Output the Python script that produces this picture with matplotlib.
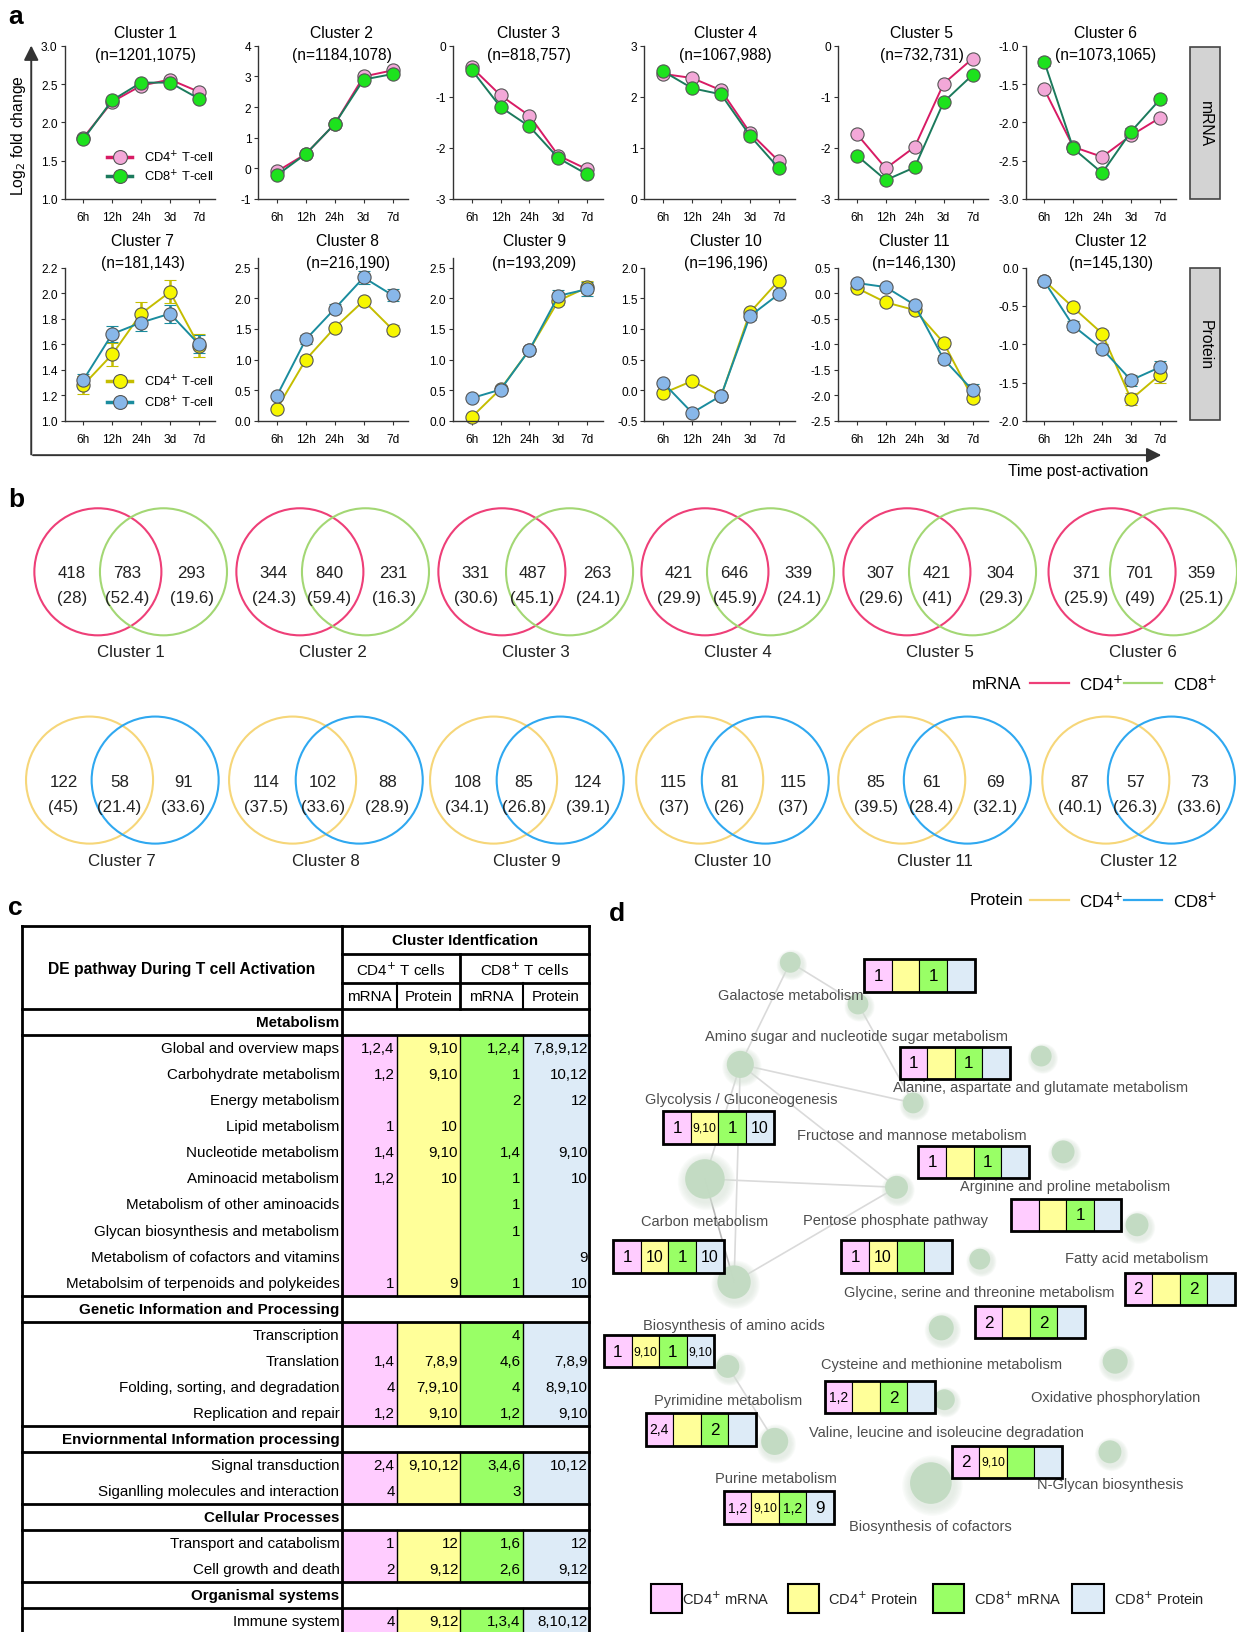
import matplotlib
matplotlib.use("Agg")
import matplotlib.pyplot as plt
from matplotlib.patches import Circle, Rectangle
from matplotlib import font_manager

# layout is worked out in the coordinates of the shown reference (1188 x 1568)
W, H = 1188, 1568
names = {f.name for f in font_manager.fontManager.ttflist}
NARROW = "Liberation Sans Narrow" in names
if NARROW:
    plt.rcParams["font.family"] = ["Liberation Sans Narrow", "Liberation Sans", "DejaVu Sans"]
    FS = 1.0
else:
    plt.rcParams["font.family"] = ["Liberation Sans", "DejaVu Sans"]
    FS = 0.84
BOLD = ["Liberation Sans", "DejaVu Sans"]

# ---------------- data: panel a ----------------
times = ["6h", "12h", "24h", "3d", "7d"]
cluster_n = ["(n=1201,1075)", "(n=1184,1078)", "(n=818,757)", "(n=1067,988)",
             "(n=732,731)", "(n=1073,1065)", "(n=181,143)", "(n=216,190)",
             "(n=193,209)", "(n=196,196)", "(n=146,130)", "(n=145,130)"]

cd4_vals = [
    [1.80, 2.27, 2.48, 2.56, 2.40],
    [-0.10, 0.47, 1.45, 3.00, 3.20],
    [-0.42, -0.97, -1.37, -2.15, -2.42],
    [2.45, 2.37, 2.13, 1.30, 0.74],
    [-1.73, -2.40, -1.98, -0.74, -0.25],
    [-1.57, -2.32, -2.45, -2.17, -1.94],
    [1.28, 1.52, 1.84, 2.01, 1.59],
    [0.20, 1.00, 1.52, 1.96, 1.49],
    [0.06, 0.52, 1.16, 1.96, 2.18],
    [-0.05, 0.15, -0.10, 1.27, 1.79],
    [0.10, -0.18, -0.33, -0.97, -2.05],
    [-0.17, -0.52, -0.86, -1.72, -1.40],
]
cd8_vals = [
    [1.78, 2.29, 2.52, 2.52, 2.31],
    [-0.22, 0.47, 1.45, 2.90, 3.08],
    [-0.47, -1.20, -1.58, -2.20, -2.52],
    [2.50, 2.17, 2.05, 1.24, 0.60],
    [-2.15, -2.63, -2.38, -1.10, -0.57],
    [-1.21, -2.34, -2.66, -2.12, -1.70],
    [1.32, 1.68, 1.77, 1.84, 1.60],
    [0.41, 1.33, 1.83, 2.34, 2.05],
    [0.37, 0.51, 1.16, 2.04, 2.15],
    [0.12, -0.37, -0.09, 1.21, 1.57],
    [0.20, 0.12, -0.23, -1.29, -1.90],
    [-0.18, -0.76, -1.06, -1.47, -1.30],
]
cd4_err = [
    [0.02] * 5, [0.02] * 5, [0.02] * 5, [0.02] * 5, [0.02] * 5, [0.03] * 5,
    [0.07, 0.09, 0.09, 0.09, 0.09],
    [0.03, 0.05, 0.05, 0.05, 0.07],
    [0.03, 0.04, 0.05, 0.07, 0.10],
    [0.05, 0.04, 0.05, 0.05, 0.06],
    [0.04, 0.05, 0.06, 0.07, 0.08],
    [0.03, 0.04, 0.05, 0.08, 0.10],
]
cd8_err = [
    [0.02] * 5, [0.02] * 5, [0.02] * 5, [0.02] * 5, [0.02] * 5,
    [0.05, 0.05, 0.05, 0.05, 0.05],
    [0.05, 0.06, 0.07, 0.07, 0.07],
    [0.04, 0.07, 0.07, 0.10, 0.10],
    [0.03, 0.04, 0.05, 0.10, 0.11],
    [0.05, 0.05, 0.05, 0.06, 0.07],
    [0.04, 0.05, 0.06, 0.08, 0.12],
    [0.03, 0.06, 0.06, 0.07, 0.08],
]
ylims = [(1, 3), (-1, 4), (-3, 0), (0, 3), (-3, 0), (-3, -1),
         (1, 2.2), (0, 2.5), (0, 2.5), (-0.5, 2.0), (-2.5, 0.5), (-2.0, 0.0)]
ysteps = [0.5, 1, 1, 1, 1, 0.5, 0.2, 0.5, 0.5, 0.5, 0.5, 0.5]
yfmt = ["%.1f", "%d", "%d", "%d", "%d", "%.1f"] + ["%.1f"] * 6

# ---------------- data: panel b ----------------
venn_left = [418, 344, 331, 421, 307, 371, 122, 114, 108, 115, 85, 87]
venn_mid = [783, 840, 487, 646, 421, 701, 58, 102, 85, 81, 61, 57]
venn_right = [293, 231, 263, 339, 304, 359, 91, 88, 124, 115, 69, 73]
pct_left = ["28", "24.3", "30.6", "29.9", "29.6", "25.9", "45", "37.5", "34.1", "37", "39.5", "40.1"]
pct_mid = ["52.4", "59.4", "45.1", "45.9", "41", "49", "21.4", "33.6", "26.8", "26", "28.4", "26.3"]
pct_right = ["19.6", "16.3", "24.1", "24.1", "29.3", "25.1", "33.6", "28.9", "39.1", "37", "32.1", "33.6"]

# ---------------- data: panel c ----------------
sections = ["Metabolism", "Genetic Information and Processing",
            "Enviornmental Information processing", "Cellular Processes",
            "Organismal systems"]
pathways = [
    [("Global and overview maps", "1,2,4", "9,10", "1,2,4", "7,8,9,12"),
     ("Carbohydrate metabolism", "1,2", "9,10", "1", "10,12"),
     ("Energy metabolism", "", "", "2", "12"),
     ("Lipid metabolism", "1", "10", "", ""),
     ("Nucleotide metabolism", "1,4", "9,10", "1,4", "9,10"),
     ("Aminoacid metabolism", "1,2", "10", "1", "10"),
     ("Metabolism of other aminoacids", "", "", "1", ""),
     ("Glycan biosynthesis and metabolism", "", "", "1", ""),
     ("Metabolism of cofactors and vitamins", "", "", "", "9"),
     ("Metabolsim of terpenoids and polykeides", "1", "9", "1", "10")],
    [("Transcription", "", "", "4", ""),
     ("Translation", "1,4", "7,8,9", "4,6", "7,8,9"),
     ("Folding, sorting, and degradation", "4", "7,9,10", "4", "8,9,10"),
     ("Replication and repair", "1,2", "9,10", "1,2", "9,10")],
    [("Signal transduction", "2,4", "9,10,12", "3,4,6", "10,12"),
     ("Siganlling molecules and interaction", "4", "", "3", "")],
    [("Transport and catabolism", "1", "12", "1,6", "12"),
     ("Cell growth and death", "2", "9,12", "2,6", "9,12")],
    [("Immune system", "4", "9,12", "1,3,4", "8,10,12")],
]

# ---------------- data: panel d ----------------
node_xy = [(759, 925), (824, 965), (711, 1023), (877, 1060), (1000, 1015),
           (677, 1133), (861, 1141), (1021, 1107), (1092, 1177), (941, 1210),
           (705, 1232), (904, 1276), (1071, 1308), (699, 1313), (907, 1345),
           (744, 1385), (1066, 1395), (894, 1425)]
node_r = [10, 10, 13, 10, 10, 19, 11, 11, 11, 10, 16, 12, 12, 11, 10, 13, 11, 20]
edges = [(0, 1), (1, 3), (0, 2), (2, 3), (2, 6), (2, 5), (2, 10), (5, 6),
         (5, 10), (10, 6), (13, 15)]
path_labels = [
    ("Galactose metabolism", 759, 956),
    ("Amino sugar and nucleotide sugar metabolism", 823, 996),
    ("Alanine, aspartate and glutamate metabolism", 999, 1045),
    ("Glycolysis / Gluconeogenesis", 712, 1056),
    ("Fructose and mannose metabolism", 876, 1091),
    ("Arginine and proline metabolism", 1023, 1140),
    ("Carbon metabolism", 677, 1173),
    ("Pentose phosphate pathway", 860, 1172),
    ("Fatty acid metabolism", 1092, 1209),
    ("Glycine, serine and threonine metabolism", 940, 1242),
    ("Biosynthesis of amino acids", 705, 1273),
    ("Cysteine and methionine metabolism", 904, 1311),
    ("Oxidative phosphorylation", 1071, 1342),
    ("Pyrimidine metabolism", 699, 1345),
    ("Valine, leucine and isoleucine degradation", 909, 1376),
    ("N-Glycan biosynthesis", 1066, 1426),
    ("Purine metabolism", 745, 1420),
    ("Biosynthesis of cofactors", 894, 1466),
]
box_pos = [(830, 922), (864, 1006), (637, 1068), (882, 1101), (971, 1152),
           (589, 1192), (808, 1192), (1080, 1223), (936, 1255), (580, 1283),
           (792, 1327), (620, 1358), (914, 1389), (695, 1433)]
box_vals = [("1", "", "1", ""), ("1", "", "1", ""), ("1", "9,10", "1", "10"),
            ("1", "", "1", ""), ("", "", "1", ""), ("1", "10", "1", "10"),
            ("1", "10", "", ""), ("2", "", "2", ""), ("2", "", "2", ""),
            ("1", "9,10", "1", "9,10"), ("1,2", "", "2", ""), ("2,4", "", "2", ""),
            ("2", "9,10", "", ""), ("1,2", "9,10", "1,2", "9")]

# colours
C4M_LINE, C4M_FACE = "#d81b65", "#f3a8d8"
C8M_LINE, C8M_FACE = "#1b7a5c", "#1de21d"
C4P_LINE, C4P_FACE = "#c4bd00", "#f7f700"
C8P_LINE, C8P_FACE = "#1a8c9e", "#88b7e9"
V_PINK, V_GREEN, V_YELLOW, V_BLUE = "#ee3f78", "#a3d774", "#f6d679", "#2fa8f0"
CELL = ["#ffccff", "#ffff99", "#99ff66", "#ddebf7"]

fig = plt.figure(figsize=(12.37, 16.33), dpi=100)
ov = fig.add_axes([0, 0, 1, 1])
ov.set_xlim(0, W)
ov.set_ylim(H, 0)
ov.axis("off")


def px_axes(left, top, right, bottom):
    a = fig.add_axes([left / W, 1 - bottom / H, (right - left) / W, (bottom - top) / H])
    a.set_facecolor("none")
    return a


def label(s, x, y):
    ov.text(x, y, s, fontsize=19, fontweight="bold", family=BOLD, ha="left", va="center")

# ---------------- panel a ----------------
label("a", 8, 16)
x6 = [80, 266, 453, 637, 823, 1003]
STEP = 27.75
titles_x = [140, 328, 508, 697, 885, 1062, 137, 334, 513, 697, 878, 1067]
for i in range(12):
    row, col = divmod(i, 6)
    left = x6[col] - 0.65 * STEP
    right = x6[col] + 4.55 * STEP
    top, bottom = (45, 192) if row == 0 else (258, 405)
    lo, hi = ylims[i]
    if i in (7, 8):
        top2 = 249
        hi2 = lo + (hi - lo) * (bottom - top2) / (bottom - top)
        top = top2
    else:
        hi2 = hi
    ax = px_axes(left, top, right, bottom)
    ax.set_xlim(-0.65, 4.55)
    ax.set_ylim(lo, hi2)
    if row == 0:
        cols4, cols8 = (C4M_LINE, C4M_FACE), (C8M_LINE, C8M_FACE)
    else:
        cols4, cols8 = (C4P_LINE, C4P_FACE), (C8P_LINE, C8P_FACE)
    for vals, err, (lc, fc) in ((cd4_vals[i], cd4_err[i], cols4),
                                (cd8_vals[i], cd8_err[i], cols8)):
        ax.errorbar(range(5), vals, yerr=err, color=lc, lw=1.4, marker="o",
                    ms=9.5, mfc=fc, mec="#555555", mew=0.8, ecolor=lc,
                    elinewidth=1.8, capsize=4, capthick=1.8, clip_on=False)
    ticks = []
    v = lo
    while v <= hi + 1e-9:
        ticks.append(round(v, 3))
        v += ysteps[i]
    ax.set_yticks(ticks)
    ax.set_yticklabels([yfmt[i] % t for t in ticks])
    ax.set_xticks(range(5))
    ax.set_xticklabels(times)
    for s in ("top", "right"):
        ax.spines[s].set_visible(False)
    for s in ("left", "bottom"):
        ax.spines[s].set_color("#333333")
        ax.spines[s].set_linewidth(1.0)
    ax.tick_params(axis="both", labelsize=10.2 * FS, length=3, width=0.8,
                   color="#333333", pad=2)
    ax.tick_params(axis="x", pad=6)
    ty = 32 if row == 0 else 232
    ov.text(titles_x[i], ty, "Cluster %d" % (i + 1), fontsize=13.5 * FS, ha="center", va="center")
    ov.text(titles_x[i], ty + 21, cluster_n[i], fontsize=13.3 * FS, ha="center", va="center")

# legends inside clusters 1 and 7
for ly, (c4, c8) in ((152, ((C4M_LINE, C4M_FACE), (C8M_LINE, C8M_FACE))),
                     (367, ((C4P_LINE, C4P_FACE), (C8P_LINE, C8P_FACE)))):
    for k, ((lc, fc), name) in enumerate(((c4, "CD4$^{+}$ T-cell"), (c8, "CD8$^{+}$ T-cell"))):
        yy = ly + k * (18 if ly < 300 else 20)
        ov.plot([103, 127], [yy, yy], color=lc, lw=2.5)
        ov.plot([115], [yy], marker="o", ms=10, mfc=fc, mec="#555555", mew=0.8)
        ov.text(138, yy, name, fontsize=11 * FS, ha="left", va="center")

# big axis arrows
ov.annotate("", xy=(30, 42), xytext=(30, 440),
            arrowprops=dict(arrowstyle="-|>", color="#333333", lw=1.4, mutation_scale=22))
ov.annotate("", xy=(1118, 438), xytext=(29, 438),
            arrowprops=dict(arrowstyle="-|>", color="#333333", lw=1.4, mutation_scale=22))
ov.text(18, 130, "Log$_2$ fold change", rotation=90, fontsize=13.5 * FS, ha="center", va="center")
ov.text(1035, 453, "Time post-activation", fontsize=13.5 * FS, ha="center", va="center")
for (y0, y1, name) in ((46, 192, "mRNA"), (258, 404, "Protein")):
    ov.add_patch(Rectangle((1143, y0), 29, y1 - y0, facecolor="#d3d3d3", edgecolor="#444444", lw=1.2))
    ov.text(1157.5, (y0 + y1) / 2, name, rotation=270, fontsize=13.5 * FS, ha="center", va="center")

# ---------------- panel b ----------------
label("b", 8, 480)
venn_c1 = [94, 288, 482, 677, 871, 1068, 86, 281, 474, 672, 866, 1062]
venn_c2 = [157, 351, 547, 740, 934, 1127, 149, 345, 538, 735, 929, 1125]
for i in range(12):
    row = i // 6
    cy = 550 if row == 0 else 750
    ca, cb = (V_PINK, V_GREEN) if row == 0 else (V_YELLOW, V_BLUE)
    ov.add_patch(Circle((venn_c1[i], cy), 61, fill=False, edgecolor=ca, lw=1.5))
    ov.add_patch(Circle((venn_c2[i], cy), 61, fill=False, edgecolor=cb, lw=1.5))
    ty = cy + 1
    xs = (venn_c1[i] - 25, (venn_c1[i] + venn_c2[i]) / 2 - 3, venn_c2[i] + 27)
    for x, n, p in zip(xs, (venn_left[i], venn_mid[i], venn_right[i]),
                       (pct_left[i], pct_mid[i], pct_right[i])):
        ov.text(x, ty, str(n), fontsize=14.5 * FS, ha="center", va="center", color="#222222")
        ov.text(x, ty + 24, "(%s)" % p, fontsize=14.5 * FS, ha="center", va="center", color="#222222")
    ov.text((venn_c1[i] + venn_c2[i]) / 2, cy + 77, "Cluster %d" % (i + 1),
            fontsize=14.5 * FS, ha="center", va="center", color="#222222")

for ly, name, ca, cb in ((657, "mRNA", V_PINK, V_GREEN), (865, "Protein", V_YELLOW, V_BLUE)):
    ov.text(957, ly, name, fontsize=14.5 * FS, ha="center", va="center")
    ov.plot([989, 1027], [ly, ly], color=ca, lw=1.6)
    ov.text(1058, ly, "CD4$^{+}$", fontsize=14.5 * FS, ha="center", va="center")
    ov.plot([1079, 1116], [ly, ly], color=cb, lw=1.6)
    ov.text(1148, ly, "CD8$^{+}$", fontsize=14.5 * FS, ha="center", va="center")

# ---------------- panel c ----------------
label("c", 8, 872)
cx = [21, 328, 381, 442, 502, 566]
TF = 13 * FS
ov.text((cx[0] + cx[1]) / 2, 931, "DE pathway During T cell Activation", fontsize=TF * 1.03,
        fontweight="bold", ha="center", va="center")
ov.text((cx[1] + cx[5]) / 2, 904, "Cluster Identfication", fontsize=TF,
        fontweight="bold", ha="center", va="center")
ov.text((cx[1] + cx[3]) / 2, 932, "CD4$^{+}$ T cells", fontsize=TF, ha="center", va="center")
ov.text((cx[3] + cx[5]) / 2, 932, "CD8$^{+}$ T cells", fontsize=TF, ha="center", va="center")
for j, nm in enumerate(["mRNA", "Protein", "mRNA", "Protein"]):
    ov.text((cx[j + 1] + cx[j + 2]) / 2, 957, nm, fontsize=TF, ha="center", va="center")

ROW = 25
y = 970
block_spans = []
for sec, rows in zip(sections, pathways):
    ov.text(cx[1] - 2, y + ROW / 2, sec, fontsize=TF, fontweight="bold", ha="right", va="center")
    ov.plot([cx[0], cx[5]], [y, y], color="k", lw=2)
    y += ROW
    ov.plot([cx[0], cx[5]], [y, y], color="k", lw=2)
    y0 = y
    for rname, *vals in rows:
        ov.text(cx[1] - 2, y + ROW / 2, rname, fontsize=TF, ha="right", va="center")
        for j, v in enumerate(vals):
            if v:
                ov.text(cx[j + 2] - 2, y + ROW / 2, v, fontsize=TF, ha="right", va="center")
        y += ROW
    block_spans.append((y0, y))
for (y0, y1) in block_spans:
    for j in range(4):
        ov.add_patch(Rectangle((cx[j + 1], y0), cx[j + 2] - cx[j + 1], y1 - y0,
                               facecolor=CELL[j], edgecolor="none", zorder=0))
    for j in range(2, 5):
        ov.plot([cx[j], cx[j]], [y0, y1], color="k", lw=1, zorder=1)
y_end = H + 5
ov.plot([cx[0], cx[0]], [890, y_end], color="k", lw=2)
ov.plot([cx[5], cx[5]], [890, y_end], color="k", lw=2)
ov.plot([cx[1], cx[1]], [890, y_end], color="k", lw=2)
ov.plot([cx[0], cx[5]], [890, 890], color="k", lw=2)
ov.plot([cx[1], cx[5]], [917, 917], color="k", lw=2)
ov.plot([cx[1], cx[5]], [945, 945], color="k", lw=2)
ov.plot([cx[3], cx[3]], [917, 970], color="k", lw=2)
ov.plot([cx[2], cx[2]], [945, 970], color="k", lw=1.5)
ov.plot([cx[4], cx[4]], [945, 970], color="k", lw=1.5)

# ---------------- panel d ----------------
label("d", 585, 878)
for a, b in edges:
    (xa, ya), (xb, yb) = node_xy[a], node_xy[b]
    col = "#b8b8b8" if (a, b) == (5, 10) else "#dadada"
    ov.plot([xa, xb], [ya, yb], color=col, lw=1.2, zorder=1)
for (x, y), r in zip(node_xy, node_r):
    for k in range(6):
        ov.add_patch(Circle((x + 1.5, y + 2.5), r * (1.45 - 0.07 * k), facecolor="#d7e3d7",
                            edgecolor="none", alpha=0.13, zorder=2))
    ov.add_patch(Circle((x, y), r, facecolor="#c2dbc2", edgecolor="none", alpha=0.95, zorder=3))
for txt, x, y in path_labels:
    ov.text(x, y, txt, fontsize=12.5 * FS, color="#4d4d4d", ha="center", va="center", zorder=4)
BW, BH = 26.5, 31
BOX_FS = {1: 13, 2: 12, 3: 10.5, 4: 9.2}
for (bx, by), vals in zip(box_pos, box_vals):
    for j, v in enumerate(vals):
        ov.add_patch(Rectangle((bx + j * BW, by), BW, BH, facecolor=CELL[j],
                               edgecolor="k", lw=0.8, zorder=5))
        if v:
            ov.text(bx + j * BW + BW / 2, by + BH / 2, v, fontsize=BOX_FS[len(v)] * (1 if NARROW else 0.95),
                    ha="center", va="center", zorder=6)
    ov.add_patch(Rectangle((bx, by), 4 * BW, BH, fill=False, edgecolor="k", lw=2, zorder=6))

leg_x = [625, 757, 896, 1030]
leg_txt = ["CD4$^{+}$ mRNA", "CD4$^{+}$ Protein", "CD8$^{+}$ mRNA", "CD8$^{+}$ Protein"]
leg_gap = [0, 8, 9, 10]
for j in range(4):
    ov.add_patch(Rectangle((leg_x[j], 1522), 30, 28, facecolor=CELL[j], edgecolor="k", lw=1.5))
    ov.text(leg_x[j] + 30 + leg_gap[j], 1536, leg_txt[j], fontsize=12.5 * FS, ha="left",
            va="center", color="#222222")

fig.savefig("out.png", dpi=100)
